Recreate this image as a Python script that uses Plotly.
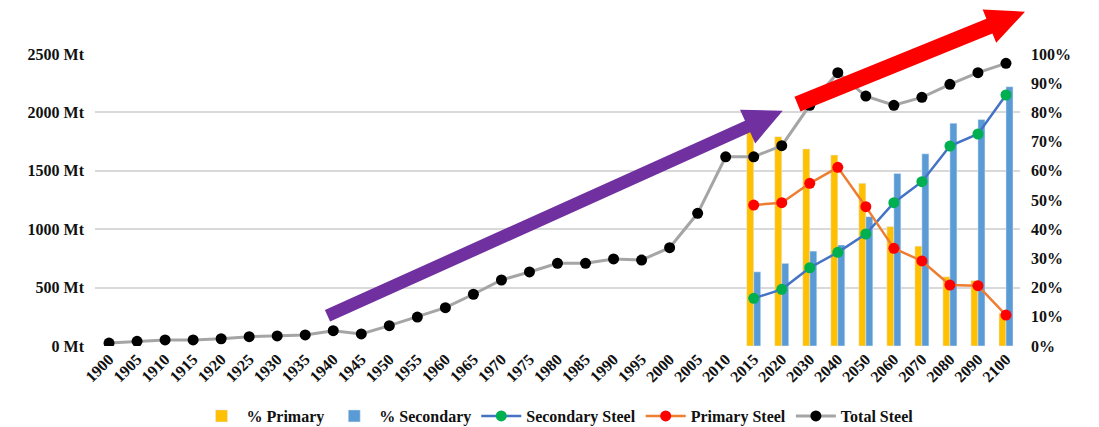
import plotly.graph_objects as go

# Category axis: 5-year steps to 2015, then decades to 2100
years = [str(y) for y in range(1900, 2016, 5)] + ["2020", "2030", "2040", "2050",
                                                  "2060", "2070", "2080", "2090", "2100"]
scenario_years = ["2015", "2020", "2030", "2040", "2050", "2060", "2070", "2080", "2090", "2100"]

# World steel output, Mt
total_steel = [25, 40, 52, 52, 62, 80, 86, 95, 131, 103, 174, 248, 328, 443, 565, 634,
               708, 708, 745, 736, 842, 1136, 1620,
               1620, 1715, 2061, 2340, 2140, 2061, 2129, 2240, 2340, 2420]
primary_steel = [1207, 1227, 1393, 1530, 1193, 836, 728, 522, 516, 265]
secondary_steel = [408, 485, 670, 802, 959, 1227, 1407, 1712, 1815, 2149]

# Route shares, %
pct_primary = [74.6, 71.7, 67.5, 65.4, 55.7, 40.9, 34.2, 23.7, 22.4, 11.2]
pct_secondary = [25.4, 28.3, 32.5, 34.6, 44.3, 59.1, 65.8, 76.3, 77.6, 88.8]

W, H = 1099, 427
L, R, T, B = 95, 79, 54, 81
PW, PH = W - L - R, H - T - B

FONT = "'Times New Roman', 'Liberation Serif', 'DejaVu Serif', serif"
INK = "#111111"

fig = go.Figure()

fig.add_trace(go.Bar(x=scenario_years, y=[v / 100 for v in pct_primary], name="% Primary",
                     marker_color="#FFC000", yaxis="y", hoverinfo="skip"))
fig.add_trace(go.Bar(x=scenario_years, y=[v / 100 for v in pct_secondary], name="% Secondary",
                     marker_color="#5B9BD5", yaxis="y", hoverinfo="skip"))

fig.add_trace(go.Scatter(x=scenario_years, y=secondary_steel, name="Secondary Steel",
                         mode="lines+markers", yaxis="y2",
                         line=dict(color="#4472C4", width=2.5),
                         marker=dict(color="#00B050", size=11)))
fig.add_trace(go.Scatter(x=scenario_years, y=primary_steel, name="Primary Steel",
                         mode="lines+markers", yaxis="y2",
                         line=dict(color="#ED7D31", width=2.5),
                         marker=dict(color="#FF0000", size=11)))
fig.add_trace(go.Scatter(x=years, y=total_steel, name="Total Steel",
                         mode="lines+markers", yaxis="y2",
                         line=dict(color="#A5A5A5", width=3),
                         marker=dict(color="#000000", size=11)))


def to_paper(px, py):
    return (px - L) / PW, (T + PH - py) / PH


def arrow_path(start, tip, shaft_w, head_w, head_len):
    (x0, y0), (x1, y1) = start, tip
    dx, dy = x1 - x0, y1 - y0
    d = (dx * dx + dy * dy) ** 0.5
    ux, uy = dx / d, dy / d
    nx, ny = -uy, ux
    bx, by = x1 - head_len * ux, y1 - head_len * uy
    pts = [
        (x0 + nx * shaft_w / 2, y0 + ny * shaft_w / 2),
        (bx + nx * shaft_w / 2, by + ny * shaft_w / 2),
        (bx + nx * head_w / 2, by + ny * head_w / 2),
        (x1, y1),
        (bx - nx * head_w / 2, by - ny * head_w / 2),
        (bx - nx * shaft_w / 2, by - ny * shaft_w / 2),
        (x0 - nx * shaft_w / 2, y0 - ny * shaft_w / 2),
    ]
    pp = [to_paper(x, y) for x, y in pts]
    return "M " + " L ".join(f"{x:.5f},{y:.5f}" for x, y in pp) + " Z"


# Trend arrows
fig.add_shape(type="path", xref="paper", yref="paper", layer="above",
              path=arrow_path((327.5, 315.8), (782.7, 110.7), 12.7, 37, 38.5),
              fillcolor="#7030A0", line=dict(width=0))
fig.add_shape(type="path", xref="paper", yref="paper", layer="above",
              path=arrow_path((797.5, 104.2), (1025, 11.7), 16, 36, 38.4),
              fillcolor="#FF0000", line=dict(width=0))

tick_font = dict(family=FONT, size=16, color=INK, weight="bold")

fig.update_layout(
    width=W, height=H,
    margin=dict(l=L, r=R, t=T, b=B, autoexpand=False),
    paper_bgcolor="white", plot_bgcolor="white",
    font=dict(family=FONT, color=INK),
    barmode="group", bargap=0.5, bargroupgap=0,
    showlegend=True,
    legend=dict(orientation="h", x=0.5, xanchor="center", y=(T + PH - 416) / PH,
                yanchor="middle", font=dict(family=FONT, size=16, color=INK, weight="bold"),
                traceorder="normal", bgcolor="rgba(0,0,0,0)", itemwidth=40),
    xaxis=dict(type="category", categoryorder="array", categoryarray=years,
               range=[-0.5, len(years) - 0.5], tickangle=-45, showgrid=False,
               showline=False, ticks="", zeroline=False,
               tickfont=dict(family=FONT, size=16, color=INK, weight="bold")),
    yaxis=dict(side="right", range=[0, 1], dtick=0.1, tickformat=".0%",
               showgrid=False, zeroline=False, showline=False, ticks="",
               ticklabelstandoff=10, tickfont=tick_font),
    yaxis2=dict(overlaying="y", side="left", range=[0, 2500], dtick=500,
                ticksuffix=" Mt", showgrid=True, gridcolor="#D9D9D9", gridwidth=1.5,
                zeroline=False, showline=False, ticks="",
                ticklabelstandoff=10, tickfont=tick_font),
)

fig.write_html("out.html")
